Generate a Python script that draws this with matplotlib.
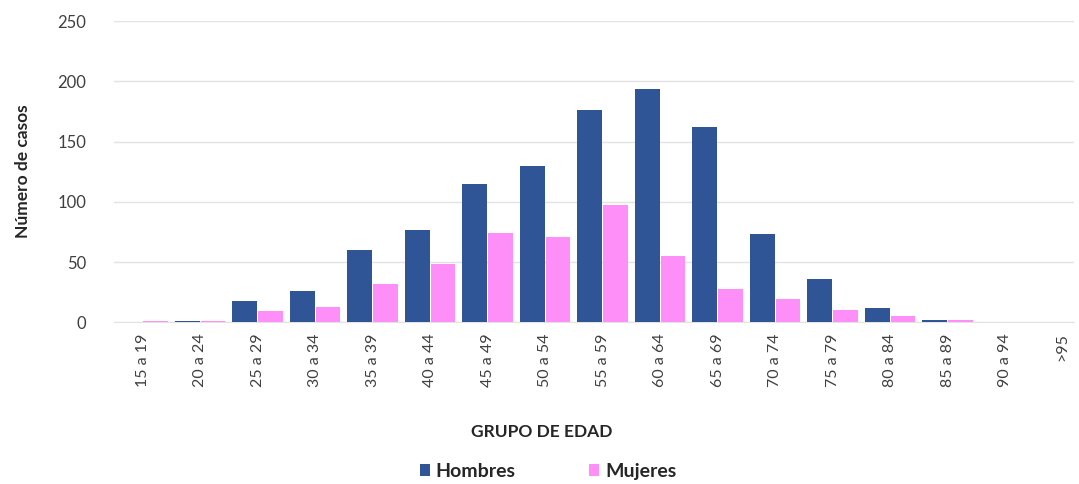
import numpy as np
import matplotlib
matplotlib.use("Agg")
import matplotlib.pyplot as plt

plt.rcParams['font.family'] = ['Lato', 'DejaVu Sans']

grupos = ["15 a 19", "20 a 24", "25 a 29", "30 a 34", "35 a 39", "40 a 44",
          "45 a 49", "50 a 54", "55 a 59", "60 a 64", "65 a 69", "70 a 74",
          "75 a 79", "80 a 84", "85 a 89", "90 a 94", ">95"]
hombres = [0, 1, 18, 26, 60, 77, 115, 130, 176, 194, 162, 73, 36, 12, 2, 0, 0]
mujeres = [1, 1, 9, 13, 32, 48, 74, 71, 97, 55, 28, 19, 10, 5, 2, 0, 0]

azul = "#2F5597"
rosa = "#FF8FF8"
texto = "#404040"

fig = plt.figure(figsize=(10.79, 4.84), dpi=100)
ax = fig.add_axes([0.1055, 0.334, 0.89, 0.6226])

x = np.arange(len(grupos))
w = 0.43
ax.bar(x - 0.225, hombres, w, color=azul, label="Hombres", zorder=3)
ax.bar(x + 0.225, mujeres, w, color=rosa, label="Mujeres", zorder=3)

ax.set_ylim(0, 250)
ax.set_xlim(-0.5, 16.2)
ax.set_yticks(range(0, 251, 50))
ax.yaxis.grid(True, color="#e3e3e3", linewidth=1, zorder=0)
for s in ["top", "right", "left"]:
    ax.spines[s].set_visible(False)
ax.spines["bottom"].set_color("#e3e3e3")
ax.spines["bottom"].set_zorder(1)

ax.set_xticks(x)
ax.set_xticklabels(grupos, rotation=90, fontsize=11.5, color=texto)
ax.tick_params(axis="both", length=0)
ax.tick_params(axis="y", labelsize=12, labelcolor=texto, pad=20)
ax.tick_params(axis="x", pad=8)

ax.set_ylabel("Número de casos", fontsize=12.5, fontweight="bold", color="#262626", labelpad=19)
fig.text(0.502, 0.108, "GRUPO DE EDAD", ha="center", va="center",
         fontsize=12.5, fontweight="bold", color="#262626")

leg = fig.legend(loc="center", bbox_to_anchor=(0.508, 0.026), ncol=2, frameon=False,
                 prop={"weight": "bold", "size": 14}, handlelength=0.5, handleheight=0.5,
                 handletextpad=0.3, columnspacing=3.8)
for t in leg.get_texts():
    t.set_color("#262626")

fig.savefig("out.png", dpi=100)
